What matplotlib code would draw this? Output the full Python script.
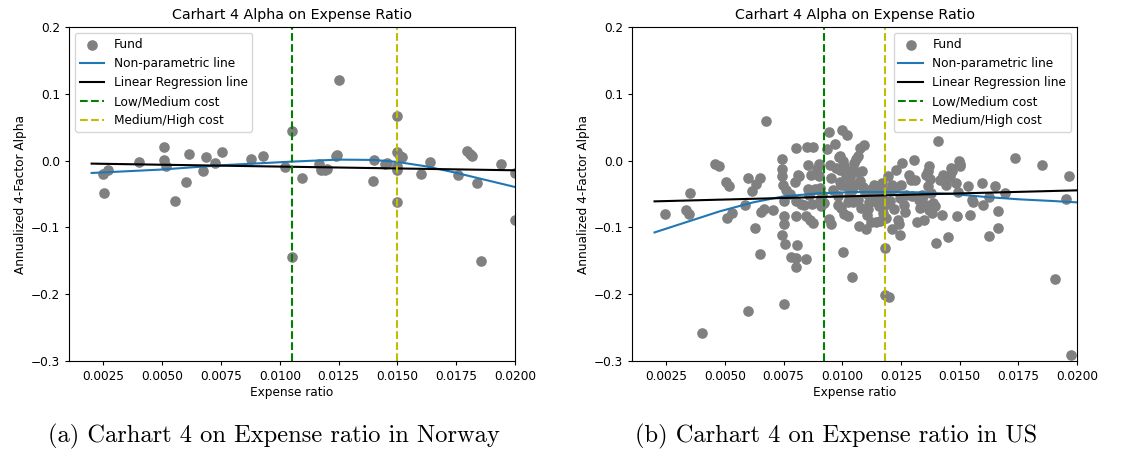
import matplotlib
matplotlib.use("Agg")
import matplotlib.pyplot as plt

# Norway funds: expense ratio and annualized 4-factor alpha
nor_x = [0.0025, 0.00271, 0.00254, 0.00403, 0.00507, 0.00507, 0.00517, 0.00556, 0.00599, 0.00614,
         0.00673, 0.00687, 0.00725, 0.00753, 0.00878, 0.00929, 0.01022, 0.0105, 0.0105, 0.01094,
         0.01166, 0.01176, 0.01194, 0.01201, 0.0124, 0.01243, 0.01251, 0.01396, 0.0140, 0.01446,
         0.01457, 0.0150, 0.0150, 0.0150, 0.0150, 0.0150, 0.01512, 0.0152, 0.01598, 0.01637,
         0.01759, 0.01796, 0.01807, 0.01817, 0.0184, 0.01856, 0.01939, 0.0200, 0.0200]
nor_y = [-0.0195, -0.014, -0.048, -0.002, 0.021, 0.001, -0.0085, -0.060, -0.032, 0.010,
         -0.0155, 0.006, -0.0035, 0.013, 0.0025, 0.0075, -0.010, 0.044, -0.144, -0.0265,
         -0.0045, -0.0145, -0.0145, -0.0125, 0.0065, 0.0085, 0.121, -0.0305, 0.001, -0.0045,
         -0.004, 0.067, 0.013, -0.0085, -0.014, -0.0625, 0.0065, 0.006, -0.0195, -0.002,
         -0.022, 0.014, 0.010, 0.0075, -0.034, -0.1505, -0.0055, -0.018, -0.0885]

# Norway fitted lines
nor_np_x = [0.002, 0.0049, 0.0075, 0.0105, 0.0125, 0.014, 0.015, 0.0162, 0.0174, 0.0184, 0.020]
nor_np_y = [-0.0185, -0.0135, -0.007, -0.0015, 0.0015, 0.001, -0.002, -0.0085, -0.0175, -0.026, -0.0395]
nor_lr_x = [0.002, 0.020]
nor_lr_y = [-0.0045, -0.0145]
nor_cuts = [0.0105, 0.015]

# US funds
us_x = [0.00246, 0.00349, 0.00335, 0.00345, 0.00401, 0.00456, 0.00474, 0.00506, 0.00517, 0.0051,
        0.00531, 0.00584, 0.00599, 0.00599, 0.00615, 0.00626, 0.00634, 0.00648, 0.00649, 0.00655,
        0.00665, 0.00676, 0.00703, 0.00743, 0.00744, 0.00743, 0.00743, 0.00747, 0.0075, 0.00751,
        0.00751, 0.00757, 0.00753, 0.00761, 0.00776, 0.00783, 0.008, 0.00801, 0.00801, 0.00804,
        0.00804, 0.00804, 0.00807, 0.00811, 0.00814, 0.00825, 0.00837, 0.00847, 0.00847, 0.00851,
        0.00854, 0.00855, 0.00858, 0.00861, 0.00868, 0.00875, 0.00872, 0.00875, 0.00884, 0.00892,
        0.00901, 0.00901, 0.00903, 0.00903, 0.00909, 0.00915, 0.0092, 0.00935, 0.00943, 0.00943,
        0.00946, 0.00952, 0.00953, 0.0096, 0.00969, 0.00974, 0.0098, 0.00983, 0.00986, 0.00989,
        0.00991, 0.00991, 0.00994, 0.00996, 0.0100, 0.01003, 0.01003, 0.01006, 0.01009, 0.01014,
        0.01017, 0.0102, 0.01023, 0.01024, 0.01028, 0.01031, 0.01037, 0.0104, 0.01043, 0.01045,
        0.0105, 0.01054, 0.01058, 0.01063, 0.01065, 0.01068, 0.01071, 0.01074, 0.01077, 0.01081,
        0.01084, 0.01088, 0.01092, 0.01095, 0.01099, 0.01102, 0.01105, 0.01109, 0.01114, 0.01119,
        0.01124, 0.01126, 0.01131, 0.01135, 0.01142, 0.01145, 0.01148, 0.01152, 0.01156, 0.01159,
        0.01165, 0.01168, 0.0117, 0.01173, 0.0118, 0.01183, 0.01183, 0.01199, 0.01187, 0.01195,
        0.01202, 0.01205, 0.0121, 0.01213, 0.01219, 0.01224, 0.0123, 0.01236, 0.01241, 0.01244,
        0.01247, 0.01251, 0.01256, 0.01261, 0.01266, 0.01273, 0.01284, 0.01293, 0.01297, 0.01304,
        0.01308, 0.01318, 0.01327, 0.0133, 0.01338, 0.01344, 0.01348, 0.01355, 0.01358, 0.01366,
        0.01366, 0.01369, 0.01372, 0.01369, 0.01379, 0.01383, 0.01386, 0.01393, 0.01401, 0.01408,
        0.01415, 0.01423, 0.01429, 0.0144, 0.01446, 0.0145, 0.01457, 0.01463, 0.01469, 0.01483,
        0.01489, 0.01493, 0.01497, 0.0150, 0.0150, 0.01534, 0.01543, 0.01553, 0.01557, 0.01597,
        0.01599, 0.01624, 0.01625, 0.01652, 0.01663, 0.01663, 0.01692, 0.01737, 0.01852, 0.01905,
        0.01955, 0.01964, 0.01976]
us_y = [-0.080, -0.048, -0.0735, -0.0795, -0.2585, -0.0045, -0.0075, -0.032, -0.038, -0.0855,
        -0.0785, -0.0665, -0.0265, -0.225, -0.046, -0.101, -0.0355, -0.0265, -0.140, -0.0775,
        -0.072, 0.059, -0.0735, -0.112, 0.003, -0.012, -0.0235, -0.037, -0.0605, -0.0825,
        -0.0945, -0.1255, -0.214, -0.0445, -0.050, -0.145, -0.032, -0.060, -0.0825, 0.0185,
        -0.146, -0.160, -0.1265, -0.021, -0.0235, -0.0645, -0.0665, -0.1475, -0.0835, 0.021,
        -0.007, -0.0425, -0.051, -0.0885, -0.022, 0.021, -0.0645, -0.0935, -0.0425, -0.012,
        -0.005, -0.0235, -0.060, -0.041, -0.0685, -0.051, -0.0635, 0.0175, 0.0425, -0.087,
        -0.007, -0.0945, -0.026, -0.0435, 0.0245, -0.011, -0.0535, -0.0665, 0.005, -0.032,
        -0.0145, 0.0065, -0.037, -0.071, 0.0465, -0.001, -0.137, -0.0795, -0.0085, -0.021,
        -0.0385, 0.0385, -0.0625, -0.0835, -0.0535, -0.026, -0.016, -0.1735, -0.0435, -0.0625,
        -0.0035, -0.036, 0.0025, -0.017, -0.0585, 0.0065, -0.0985, 0.0195, -0.031, -0.0715,
        -0.016, -0.0395, 0.0235, -0.0485, -0.1025, -0.0435, -0.081, -0.072, -0.062, -0.0435,
        -0.0925, -0.0485, -0.061, -0.036, -0.0925, -0.0485, -0.0585, -0.0385, -0.0685, -0.091,
        -0.0485, -0.056, -0.0335, -0.0785, -0.067, -0.131, -0.2015, -0.2035, -0.086, -0.0235,
        -0.0435, -0.061, -0.1025, -0.036, -0.0725, -0.041, -0.0145, -0.0885, -0.0945, -0.056,
        -0.111, -0.036, -0.0035, -0.066, -0.0775, -0.051, -0.021, -0.0285, -0.0525, 0.0005,
        -0.0285, -0.092, -0.0595, -0.071, -0.051, -0.0535, -0.0885, -0.066, -0.021, -0.016,
        -0.0385, -0.0085, -0.0275, -0.0735, -0.0485, -0.0785, -0.0635, -0.0685, -0.1235, 0.029,
        -0.0285, -0.0815, -0.021, -0.036, -0.0275, -0.1145, -0.0225, -0.0115, -0.016, -0.0335,
        -0.0825, -0.0475, -0.001, -0.0085, -0.0045, -0.0385, -0.082, -0.0585, -0.0625, -0.0335,
        -0.066, -0.0545, -0.1125, -0.0385, -0.076, -0.101, -0.0485, 0.0035, -0.007, -0.1775,
        -0.057, -0.0235, -0.291]

us_np_x = [0.002, 0.00477, 0.0062, 0.0075, 0.0090, 0.0105, 0.0119, 0.0133, 0.01472, 0.01614, 0.01756, 0.01898, 0.020]
us_np_y = [-0.1075, -0.076, -0.0625, -0.0535, -0.049, -0.047, -0.047, -0.0475, -0.050, -0.0545, -0.058, -0.0605, -0.0625]
us_lr_x = [0.002, 0.020]
us_lr_y = [-0.061, -0.0445]
us_cuts = [0.0092, 0.0118]

captions = ["(a) Carhart 4 on Expense ratio in Norway", "(b) Carhart 4 on Expense ratio in US"]

FS = 8.7


def draw_panel(ax, x, y, np_x, np_y, lr_x, lr_y, cuts, legend_loc):
    ax.scatter(x, y, color="grey", s=44, label="Fund")
    ax.plot(np_x, np_y, color="#1f77b4", label="Non-parametric line")
    ax.plot(lr_x, lr_y, color="black", label="Linear Regression line")
    ax.axvline(cuts[0], color="g", linestyle="--", label="Low/Medium cost")
    ax.axvline(cuts[1], color="y", linestyle="--", label="Medium/High cost")
    ax.set_xlim(0.00104, 0.02)
    ax.set_ylim(-0.3, 0.2)
    ax.set_title("Carhart 4 Alpha on Expense Ratio", fontsize=10.3)
    ax.set_xlabel("Expense ratio", fontsize=FS, labelpad=2)
    ax.set_ylabel("Annualized 4-Factor Alpha", fontsize=FS, labelpad=3)
    ax.tick_params(labelsize=FS, length=3)
    ax.legend(loc=legend_loc, fontsize=FS)


fig = plt.figure(figsize=(11.21, 4.54), dpi=100)
ax1 = fig.add_axes([0.0616, 0.2048, 0.3979, 0.7357])
ax2 = fig.add_axes([0.5638, 0.2048, 0.3970, 0.7357])

draw_panel(ax1, nor_x, nor_y, nor_np_x, nor_np_y, nor_lr_x, nor_lr_y, nor_cuts, "upper left")
draw_panel(ax2, us_x, us_y, us_np_x, us_np_y, us_lr_x, us_lr_y, us_cuts, "upper right")

# captions under each panel, latex style
fig.text(0.244, 0.0385, captions[0], family="cmr10", fontsize=17.6, ha="center", va="center")
fig.text(0.7462, 0.0385, captions[1], family="cmr10", fontsize=17.6, ha="center", va="center")

fig.savefig("out.png", dpi=100)
